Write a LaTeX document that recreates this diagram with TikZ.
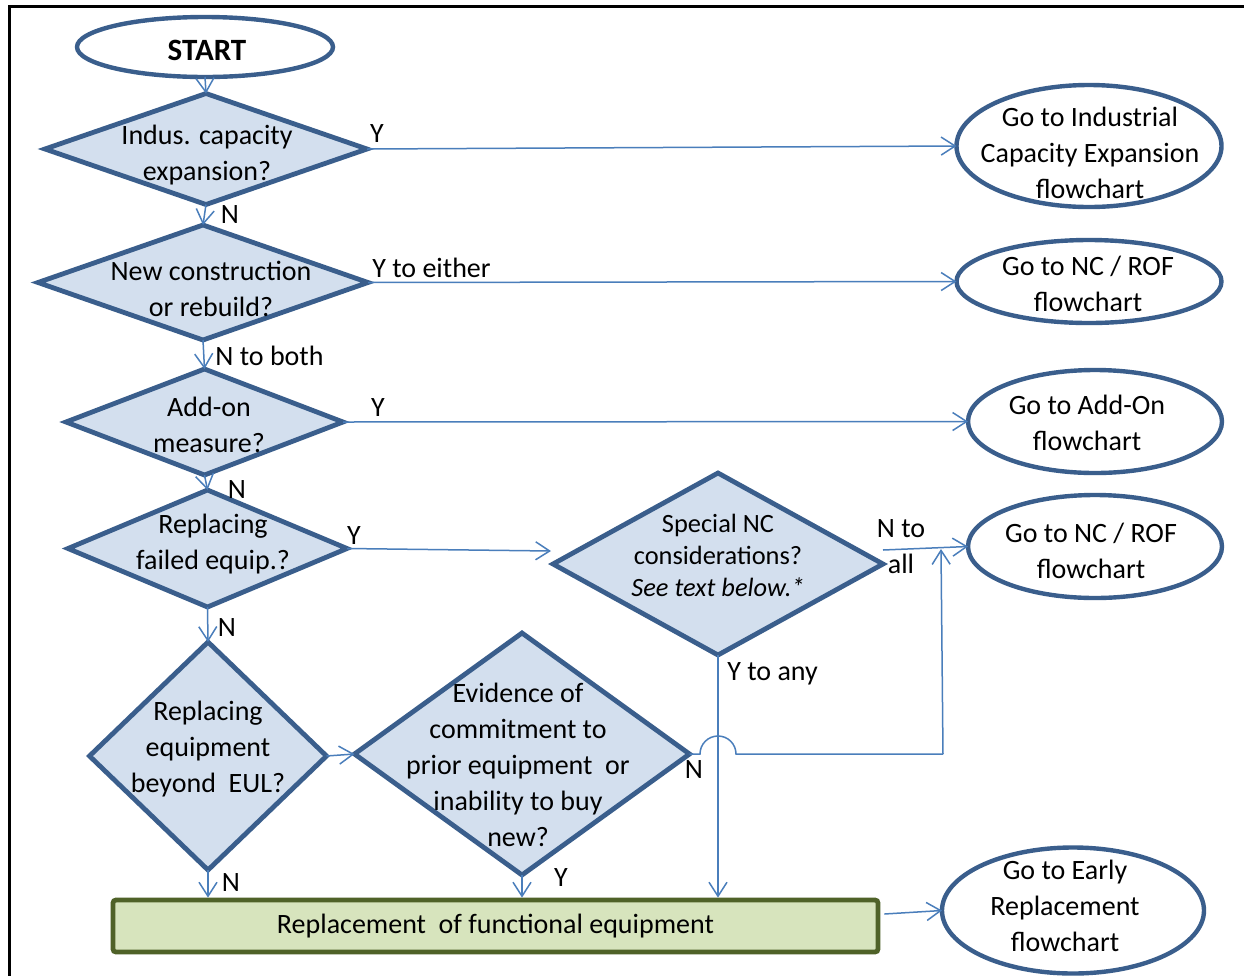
\documentclass[tikz,border=0pt]{standalone}
\usepackage{fontspec}
\setmainfont{Carlito}
\usetikzlibrary{shapes.geometric,arrows.meta,calc}
\definecolor{dborder}{RGB}{58,94,140}
\definecolor{dfill}{RGB}{211,223,238}
\definecolor{cblue}{RGB}{74,126,187}
\definecolor{boxfill}{RGB}{215,228,189}
\definecolor{boxborder}{RGB}{79,98,40}
\tikzset{
  txt/.style={font=\fontsize{14}{18}\selectfont, align=center, inner sep=0pt},
  smalltxt/.style={font=\fontsize{13.2}{16}\selectfont, align=center, inner sep=0pt},
  dia/.style={diamond, draw=dborder, fill=dfill, line width=2.4pt, inner sep=0pt, outer sep=0pt},
  ell/.style={ellipse, draw=dborder, fill=white, line width=2.2pt, inner sep=0pt, outer sep=0pt},
  conn/.style={draw=cblue, line width=0.75pt, -{Straight Barb[length=7pt,width=9pt,line width=0.75pt]}},
  plain/.style={draw=cblue, line width=0.75pt},
  lbl/.style={font=\fontsize{14}{18}\selectfont, inner sep=0pt, align=center},
}
\begin{document}
\begin{tikzpicture}[x=0.5pt,y=-0.5pt]
\useasboundingbox (0,0) rectangle (1244,976);
\fill[white] (0,0) rectangle (1244,976);
% frame
\draw[line width=1.5pt] (1244,6) -- (9,6) -- (9,976);

% shapes
\node[ell, minimum width=128pt, minimum height=30pt] (start) at (205,47) {};
\node[txt, font=\fontsize{15.5}{18}\selectfont\bfseries] (tstart) at (207,50) {START};

\node[dia, minimum width=161pt, minimum height=55.5pt] (d1) at (206,149) {};
\node[txt] (t1) at (207,155) {Indus. capacity\\expansion?};

\node[dia, minimum width=165pt, minimum height=57.5pt] (d2) at (203,282.5) {};
\node[txt] (t2) at (211,289) {New construction\\or rebuild?};

\node[dia, minimum width=138.5pt, minimum height=53pt] (d3) at (204.5,422) {};
\node[txt] (t3) at (209,425) {Add-on\\measure?};

\node[dia, minimum width=139.5pt, minimum height=58.5pt] (d4) at (207.5,548.5) {};
\node[txt] (t4) at (213,544) {Replacing\\failed equip.?};

\node[dia, minimum width=118.5pt, minimum height=114pt] (d5) at (208,756) {};
\node[txt] (t5) at (208,749) {Replacing\\equipment\\beyond~ EUL?};

\node[dia, minimum width=167.5pt, minimum height=121pt] (d6) at (522,754) {};
\node[txt] (t6) at (518,765) {Evidence of\\commitment to\\prior equipment~ or\\inability to buy\\new?};

\node[dia, minimum width=165pt, minimum height=91pt] (d7) at (718,564) {};
\node[smalltxt] (t7) at (718,555) {Special NC\\considerations?\\\textit{See text below.*}};

\node[draw=boxborder, fill=boxfill, line width=2.4pt, rounded corners=1.5pt,
      minimum width=382.5pt, minimum height=26pt, inner sep=0pt] (box) at (495.5,926)
      {\fontsize{14}{18}\selectfont Replacement~ of functional equipment};

\node[ell, minimum width=132.5pt, minimum height=61pt] (e1) at (1089,146) {};
\node[txt] (te1) at (1090,153) {Go to Industrial\\Capacity Expansion\\flowchart};

\node[ell, minimum width=132.5pt, minimum height=41.5pt] (e2) at (1089,281.5) {};
\node[txt] (te2) at (1088,284) {Go to NC / ROF\\flowchart};

\node[ell, minimum width=127pt, minimum height=51.5pt] (e3) at (1095,421.5) {};
\node[txt] (te3) at (1087,423) {Go to Add-On\\flowchart};

\node[ell, minimum width=127pt, minimum height=51.5pt] (e4) at (1095,546.5) {};
\node[txt] (te4) at (1091,551) {Go to NC / ROF\\flowchart};

\node[ell, minimum width=131pt, minimum height=63pt] (e5) at (1073,910.5) {};
\node[txt] (te5) at (1065,906) {Go to Early\\Replacement\\flowchart};

% connectors
\draw[conn] (start.south) -- (d1.north);
\draw[conn] (d1.east) -- (e1.west);
\draw[conn] (d1.south) -- (d2.north);
\draw[conn] (d2.east) -- (e2.west);
\draw[conn] (d2.south) -- (d3.north);
\draw[conn] (d3.east) -- (e3.west);
\draw[conn] (d3.south) -- (d4.north);
\draw[conn] (d4.east) -- ($(d7.west)+(-2,-13)$);
\draw[conn] (d4.south) -- (d5.north);
\draw[conn] (d5.east) -- (d6.west);
\draw[conn] (d5.south) -- (d5.south |- box.north);
\draw[conn] (d6.south) -- (d6.south |- box.north);
\draw[conn] (d7.south) -- (d7.south |- box.north);
\draw[conn] ($(d7.east)+(0,-14)$) -- (e4.west);
\draw[conn] ($(box.east)+(4,-12)$) -- (e5.west);

\coordinate (corner) at (943,754);
\coordinate (tip) at (941,549);
\draw[plain] (d6.east) -- ($(d7.south |- d6.east)+(-18,0)$) arc[start angle=180, end angle=0, radius=9pt] -- (corner);
\draw[conn] (corner) -- (tip);

% labels
\node[lbl] (l1) at (377,134) {Y};
\node[lbl] (l2) at (230,215) {N};
\node[lbl, anchor=west] (l3) at (372,268) {Y to either};
\node[lbl, anchor=west] (l4) at (215,356) {N to both};
\node[lbl] (l5) at (378,408) {Y};
\node[lbl] (l6) at (237,490) {N};
\node[lbl] (l7) at (354,536) {Y};
\node[lbl] (l8) at (227,628) {N};
\node[lbl] (l9) at (901,547) {N to\\all};
\node[lbl, anchor=west] (l10) at (727,674) {Y to any};
\node[lbl] (l11) at (694,770) {N};
\node[lbl] (l12) at (231,883) {N};
\node[lbl] (l13) at (561,878) {Y};
\end{tikzpicture}
\end{document}
